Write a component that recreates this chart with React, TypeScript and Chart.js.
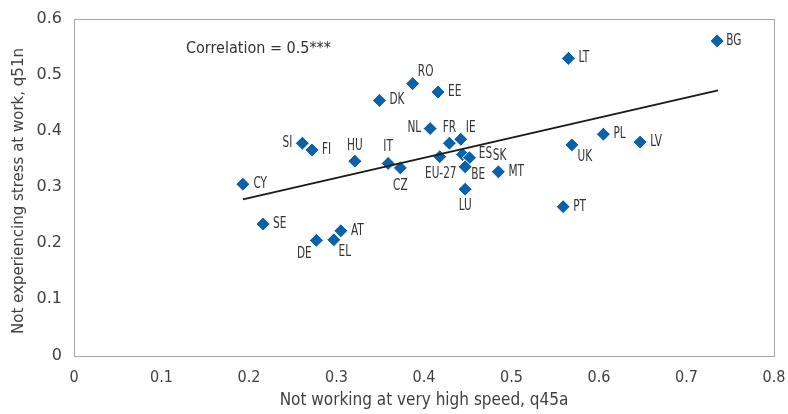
import React, { useEffect, useRef } from "react";
import { Chart, registerables } from "chart.js";

Chart.register(...registerables);

const countries = ["BG","LT","RO","EE","DK","NL","FR","IE","SI","FI","HU","IT","CZ","EU-27","ES","SK","BE","MT","LU","CY","SE","DE","EL","AT","PL","LV","UK","PT"];
const speedValues = [0.735,0.565,0.387,0.416,0.349,0.407,0.429,0.442,0.261,0.272,0.321,0.359,0.373,0.418,0.444,0.452,0.447,0.485,0.447,0.193,0.216,0.277,0.297,0.305,0.605,0.647,0.569,0.559];
const stressValues = [0.560,0.529,0.484,0.469,0.454,0.404,0.378,0.385,0.378,0.366,0.346,0.342,0.334,0.354,0.358,0.352,0.336,0.327,0.296,0.305,0.234,0.205,0.206,0.222,0.394,0.380,0.375,0.265];
const trendX = [0.193, 0.736];
const trendY = [0.278, 0.472];
const xTicks = [0, 0.1, 0.2, 0.3, 0.4, 0.5, 0.6, 0.7, 0.8];
const yTicks = [0, 0.1, 0.2, 0.3, 0.4, 0.5, 0.6];
const correlationText = "Correlation = 0.5***";
const xTitle = "Not working at very high speed, q45a";
const yTitle = "Not experiencing stress at work, q51n";

// label placement style: [align, dx, dy]
const labelPlace: Record<string, [CanvasTextAlign, number, number]> = {
  BG: ["left", 9, 0], LT: ["left", 10, 0], RO: ["center", 13, -12], EE: ["left", 10, 0],
  DK: ["left", 10, 0], NL: ["right", -9, 0], FR: ["center", 0, -15], IE: ["center", 10, -11],
  SI: ["right", -10, 0], FI: ["left", 10, 0], HU: ["center", 0, -15], IT: ["center", 0, -16],
  CZ: ["center", 0, 18], "EU-27": ["center", 1, 17], ES: ["center", 23, 0], SK: ["center", 30, -1.5],
  BE: ["center", 13, 8], MT: ["left", 10, 0], LU: ["center", 0, 17], CY: ["left", 10.5, 0],
  SE: ["left", 10, 0], DE: ["center", -12, 14], EL: ["center", 11, 12], AT: ["left", 10, 0],
  PL: ["left", 10, 0], LV: ["left", 10, 0], UK: ["center", 13, 12], PT: ["left", 10, 0],
};

const COND = "'Liberation Sans Narrow', 'DejaVu Sans Condensed', sans-serif";
const WIDE = "'DejaVu Sans', sans-serif";
const TEXT = "#404040";

export default function App() {
  const ref = useRef<HTMLCanvasElement | null>(null);
  useEffect(() => {
    document.body.style.margin = "0";
    const canvas = ref.current!;
    const overlay = {
      id: "overlay",
      beforeDatasetsDraw(chart: any) {
        const { ctx, chartArea: a } = chart;
        ctx.save();
        ctx.strokeStyle = "#a6a6a6";
        ctx.lineWidth = 1;
        ctx.strokeRect(Math.round(a.left) + 0.5, Math.round(a.top) + 0.5, Math.round(a.right - a.left), Math.round(a.bottom - a.top));
        ctx.restore();
      },
      afterDatasetsDraw(chart: any) {
        const { ctx, chartArea: a } = chart;
        const xs = chart.scales.x, ys = chart.scales.y;
        ctx.save();
        ctx.fillStyle = "#333333";
        ctx.font = `15px ${COND}`;
        ctx.textBaseline = "middle";
        countries.forEach((c, i) => {
          const px = xs.getPixelForValue(speedValues[i]);
          const py = ys.getPixelForValue(stressValues[i]);
          const [al, dx, dy] = labelPlace[c] || ["left", 10, 0];
          ctx.save();
          ctx.translate(px + dx, py + dy);
          ctx.scale(0.78, 1);
          ctx.textAlign = al;
          ctx.fillText(c, 0, 0);
          ctx.restore();
        });
        ctx.font = `16px ${COND}`;
        ctx.textAlign = "left";
        ctx.fillText(correlationText, xs.getPixelForValue(0.128), ys.getPixelForValue(0.546));
        ctx.fillStyle = TEXT;
        ctx.font = `17px ${COND}`;
        ctx.textAlign = "center";
        ctx.fillText(xTitle, (a.left + a.right) / 2, 401);
        ctx.translate(19.5, 191);
        ctx.rotate(-Math.PI / 2);
        ctx.font = `15px ${WIDE}`;
        ctx.fillText(yTitle, 0, 0);
        ctx.restore();
      },
    };
    const chart = new Chart(canvas, {
      type: "scatter",
      data: {
        datasets: [
          {
            type: "line",
            data: trendX.map((x, i) => ({ x, y: trendY[i] })),
            borderColor: "#1a1a1a",
            borderWidth: 2,
            pointRadius: 0,
            fill: false,
            order: 0,
          } as any,
          {
            data: speedValues.map((x, i) => ({ x, y: stressValues[i] })),
            pointStyle: "rectRot",
            pointRadius: 7,
            backgroundColor: "#0b62a8",
            borderColor: "#ffffff",
            borderWidth: 1,
            order: 1,
          },
        ],
      },
      options: {
        animation: false,
        responsive: false,
        layout: { padding: { top: 18.5, right: 14, left: 0, bottom: 0 } },
        plugins: { legend: { display: false }, tooltip: { enabled: false } },
        scales: {
          x: {
            type: "linear",
            min: 0,
            max: 0.8,
            afterFit: (s: any) => { s.height = 58.5; s.paddingLeft = 0; s.paddingRight = 0; },
            afterBuildTicks: (s: any) => { s.ticks = xTicks.map((v) => ({ value: v })); },
            grid: { display: false, drawTicks: false },
            border: { display: false },
            ticks: { padding: 13, color: TEXT, font: { family: COND, size: 16 }, callback: (v: any) => String(v) },
          },
          y: {
            type: "linear",
            min: 0,
            max: 0.6,
            afterFit: (s: any) => { s.width = 74; s.paddingTop = 0; s.paddingBottom = 0; },
            afterBuildTicks: (s: any) => { s.ticks = yTicks.map((v) => ({ value: v })); },
            grid: { display: false, drawTicks: false },
            border: { display: false },
            ticks: { padding: 12, color: TEXT, font: { family: WIDE, size: 16 }, callback: (v: any) => String(v) },
          },
        },
      },
      plugins: [overlay],
    });
    return () => chart.destroy();
  }, []);
  return (
    <div style={{ width: 788, height: 414, background: "#fff" }}>
      <canvas ref={ref} width={788} height={414} style={{ display: "block" }} />
    </div>
  );
}
